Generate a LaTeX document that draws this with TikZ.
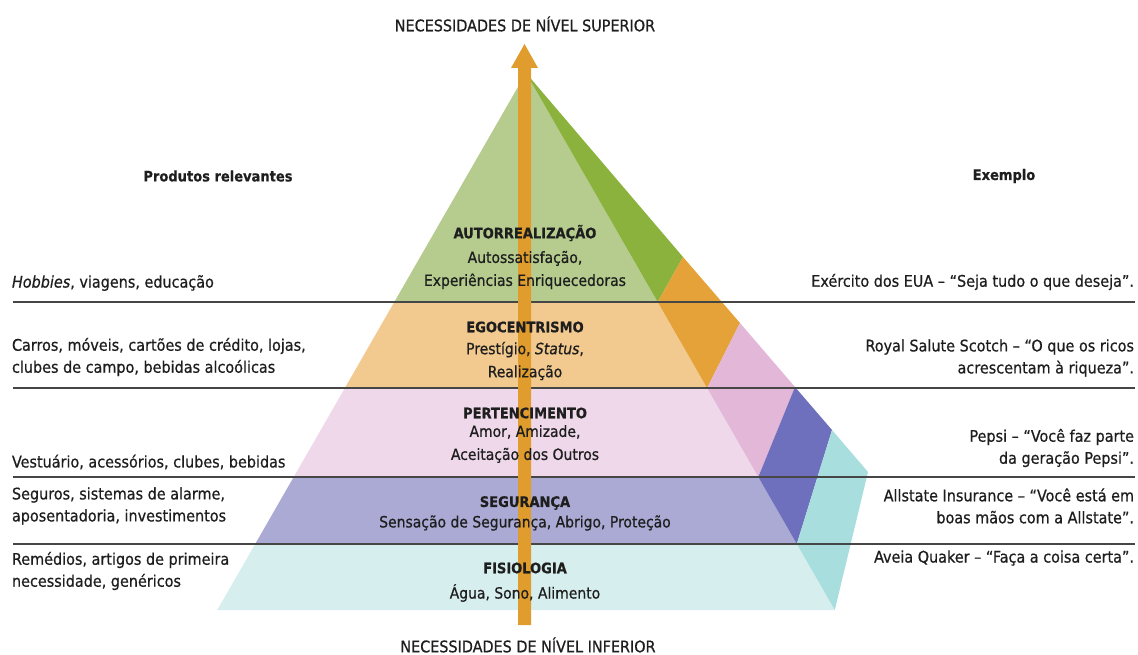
\documentclass[tikz,border=0pt]{standalone}
\usepackage{fontspec}
\setmainfont{DejaVu Sans Condensed}[UprightFeatures={FakeBold=0.7}, ItalicFeatures={FakeBold=0.7}, BoldFeatures={FakeBold=0.6}]
\definecolor{gfront}{RGB}{181,204,142}
\definecolor{gside}{RGB}{138,178,60}
\definecolor{ofront}{RGB}{242,201,142}
\definecolor{oside}{RGB}{228,162,56}
\definecolor{pfront}{RGB}{238,216,234}
\definecolor{pside}{RGB}{226,183,216}
\definecolor{bfront}{RGB}{170,170,212}
\definecolor{bside}{RGB}{110,112,189}
\definecolor{cfront}{RGB}{214,238,238}
\definecolor{cside}{RGB}{168,222,221}
\definecolor{arrowc}{RGB}{224,156,44}
\definecolor{rulec}{RGB}{70,70,70}
\definecolor{txt}{RGB}{30,30,30}
\tikzset{
  every node/.style={inner sep=0pt, outer sep=0pt, text=txt},
  body/.style={font=\fontsize{16}{22}\selectfont},
  sidel/.style={body, anchor=west, align=left},
  sider/.style={body, anchor=east, align=right},
  mid/.style={font=\fontsize{15.5}{23}\selectfont, align=center},
  lvl/.style={font=\bfseries\fontsize{14.5}{17}\selectfont},
  headtxt/.style={font=\bfseries\fontsize{14.5}{17}\selectfont},
  captxt/.style={font=\fontsize{16}{18}\selectfont},
  band/.style={line width=1.3pt, draw=rulec}
}
\begin{document}
\begin{tikzpicture}[x=1pt,y=-1pt]
\useasboundingbox (0,0) rectangle (1138,655);
% apex and edges
\coordinate (A) at (526,73);
\coordinate (L1) at (394.3,302); \coordinate (F1) at (657.7,302);
\coordinate (L2) at (344.9,388); \coordinate (F2) at (707.1,388);
\coordinate (L3) at (293.7,477); \coordinate (F3) at (758.3,477);
\coordinate (L4) at (255.2,544); \coordinate (F4) at (796.8,544);
\coordinate (L5) at (217.2,610); \coordinate (F5) at (834.8,610);
\coordinate (P1) at (683,257);
\coordinate (P2) at (740,323);
\coordinate (P3) at (795,387);
\coordinate (P4) at (832,430);
\coordinate (P5) at (868,472);
% front faces
\fill[gfront] (A) -- (L1) -- (F1) -- cycle;
\fill[ofront] (L1) -- (F1) -- (F2) -- (L2) -- cycle;
\fill[pfront] (L2) -- (F2) -- (F3) -- (L3) -- cycle;
\fill[bfront] (L3) -- (F3) -- (F4) -- (L4) -- cycle;
\fill[cfront] (L4) -- (F4) -- (F5) -- (L5) -- cycle;
% side faces
\fill[gside] (A) -- (P1) -- (F1) -- cycle;
\fill[oside] (F1) -- (P1) -- (P2) -- (F2) -- cycle;
\fill[pside] (F2) -- (P2) -- (P3) -- (F3) -- cycle;
\fill[bside] (F3) -- (P3) -- (P4) -- (F4) -- cycle;
\fill[cside] (F4) -- (P4) -- (P5) -- (F5) -- cycle;
% rules
\coordinate (r1a) at (13,302); \coordinate (r1b) at (1135,302);
\coordinate (r2a) at (13,388); \coordinate (r2b) at (1135,388);
\coordinate (r3a) at (13,477); \coordinate (r3b) at (1135,477);
\coordinate (r4a) at (13,544); \coordinate (r4b) at (1135,544);
\draw[band] (r1a) -- (r1b);
\draw[band] (r2a) -- (r2b);
\draw[band] (r3a) -- (r3b);
\draw[band] (r4a) -- (r4b);
% arrow
\coordinate (tip) at (524.5,44);
\fill[arrowc] (518,625) -- (518,68) -- (511,68) -- (tip) -- (538,68) -- (531,68) -- (531,625) -- cycle;
% captions
\node[captxt] (sup) at (525,24) {NECESSIDADES DE NÍVEL SUPERIOR};
\node[captxt] (inf) at (528,645) {NECESSIDADES DE NÍVEL INFERIOR};
\node[headtxt] (hl) at (218,176) {Produtos relevantes};
\node[headtxt] (hr) at (1004,176) {Exemplo};
% pyramid texts
\node[lvl] (t1) at (525,233) {AUTORREALIZAÇÃO};
\node[mid] (d1) at (525,270) {Autossatisfação,\\Experiências Enriquecedoras};
\node[lvl] (t2) at (525,327) {EGOCENTRISMO};
\node[mid] (d2) at (525,361) {Prestígio, \textit{Status},\\Realização};
\node[lvl] (t3) at (525,413) {PERTENCIMENTO};
\node[mid] (d3) at (525,444) {Amor, Amizade,\\Aceitação dos Outros};
\node[lvl] (t4) at (525,503) {SEGURANÇA};
\node[mid] (d4) at (525,523) {Sensação de Segurança, Abrigo, Proteção};
\node[lvl] (t5) at (525,568) {FISIOLOGIA};
\node[mid] (d5) at (525,593) {Água, Sono, Alimento};
% left column
\node[sidel] (l1) at (12,283) {\textit{Hobbies}, viagens, educação};
\node[sidel] (l2) at (12,357) {Carros, móveis, cartões de crédito, lojas,\\clubes de campo, bebidas alcoólicas};
\node[sidel] (l3) at (12,462) {Vestuário, acessórios, clubes, bebidas};
\node[sidel] (l4) at (12,506) {Seguros, sistemas de alarme,\\aposentadoria, investimentos};
\node[sidel] (l5) at (12,571) {Remédios, artigos de primeira\\necessidade, genéricos};
% right column
\node[sider] (x1) at (1134,282) {Exército dos EUA – “Seja tudo o que deseja”.};
\node[sider] (x2) at (1134,358) {Royal Salute Scotch – “O que os ricos\\acrescentam à riqueza”.};
\node[sider] (x3) at (1134,448) {Pepsi – “Você faz parte\\da geração Pepsi”.};
\node[sider] (x4) at (1134,506) {Allstate Insurance – “Você está em\\boas mãos com a Allstate”.};
\node[sider] (x5) at (1134,558) {Aveia Quaker – “Faça a coisa certa”.};
\end{tikzpicture}
\end{document}
